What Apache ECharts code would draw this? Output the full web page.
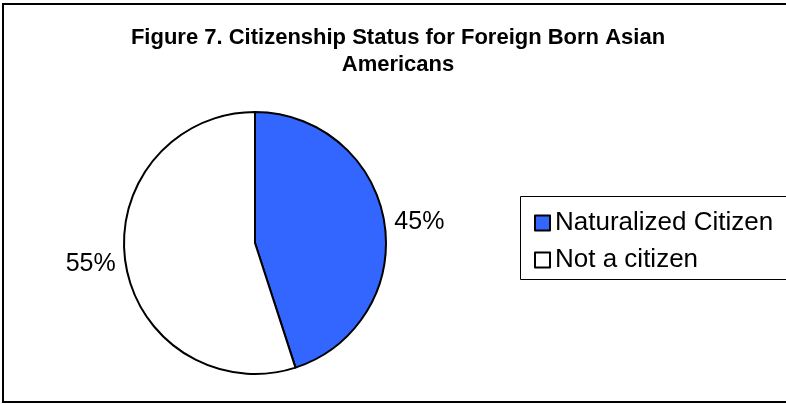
<!DOCTYPE html>
<html lang="en">
<head>
    <meta charset="UTF-8" />
    <title>Figure 7. Citizenship Status for Foreign Born Asian Americans</title>
    <script src="https://cdn.jsdelivr.net/npm/echarts@6/dist/echarts.min.js"></script>
    <style>
        html, body { margin: 0; padding: 0; background: #fff; }
        #main { width: 786px; height: 404px; }
    </style>
</head>
<body>
<div id="main"></div>
<script>
// 数据
let categories = ['Naturalized Citizen', 'Not a citizen'];
let shares = [45, 55];
let colors = ['#3366FF', '#FFFFFF'];

let myChart = echarts.init(document.getElementById('main'));

let pieData = categories.map(function (name, i) {
    return { name: name, value: shares[i], itemStyle: { color: colors[i] } };
});

myChart.setOption({
    animation: false,
    backgroundColor: '#fff',
    title: {
        text: 'Figure 7. Citizenship Status for Foreign Born Asian\nAmericans',
        left: 393,
        top: 19,
        textAlign: 'center',
        textStyle: {
            fontFamily: 'Liberation Sans',
            fontWeight: 'bold',
            fontSize: 22,
            lineHeight: 27,
            color: '#000'
        }
    },
    graphic: [
        {   // 外框
            type: 'rect',
            shape: { x: 3, y: 4, width: 800, height: 398 },
            style: { fill: null, stroke: '#000', lineWidth: 2 },
            silent: true
        },
        {   // 图例框
            type: 'rect',
            shape: { x: 520.5, y: 196.5, width: 300, height: 83 },
            style: { fill: null, stroke: '#000', lineWidth: 1 },
            silent: true
        }
    ],
    legend: {
        orient: 'vertical',
        left: 529,
        top: 205,
        icon: 'rect',
        itemWidth: 15,
        itemHeight: 15,
        itemGap: 11,
        textStyle: {
            fontFamily: 'Liberation Sans',
            fontSize: 26,
            color: '#000'
        },
        data: categories
    },
    series: [
        {
            type: 'pie',
            center: [255, 243],
            radius: 131,
            startAngle: 90,
            clockwise: true,
            avoidLabelOverlap: false,
            itemStyle: { borderColor: '#000', borderWidth: 2 },
            emphasis: { disabled: true },
            label: {
                show: true,
                position: 'outside',
                formatter: '{d}%',
                fontFamily: 'Liberation Sans',
                fontSize: 25,
                color: '#000'
            },
            labelLine: { show: false, length: 5, length2: 0 },
            data: pieData
        }
    ]
});
</script>
</body>
</html>
